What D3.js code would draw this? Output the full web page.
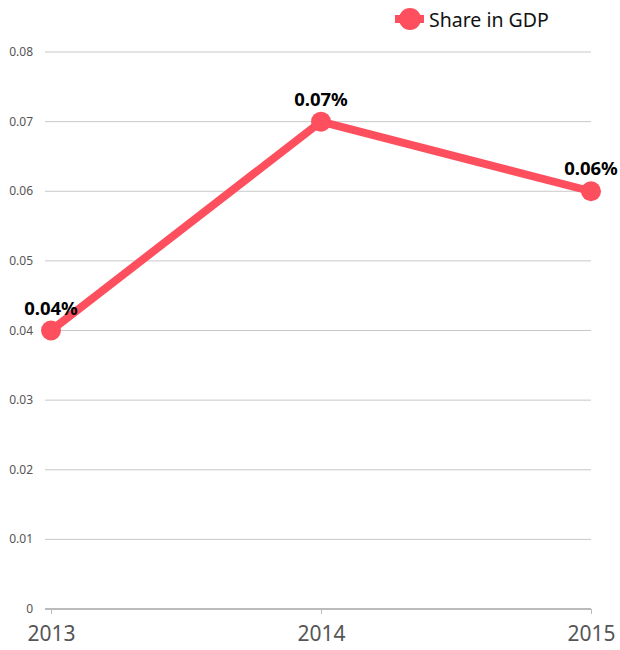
<!DOCTYPE html>
<html>
<head>
<meta charset="utf-8">
<script src="https://cdn.jsdelivr.net/npm/d3@7"></script>
<style>
body{margin:0;background:#fff;}
svg{display:block;font-family:"Noto Sans","Open Sans",sans-serif;}
</style>
</head>
<body>
<svg id="chart" width="620" height="650"></svg>
<script>
const years = ["2013","2014","2015"];
const shareInGDP = [0.04, 0.07, 0.06];
const dataLabels = ["0.04%","0.07%","0.06%"];
const yTicks = [0,0.01,0.02,0.03,0.04,0.05,0.06,0.07,0.08];
const seriesName = "Share in GDP";

const svg = d3.select("#chart");
const color = "#fd4f5e";
const x = d3.scalePoint().domain(years).range([51,591]);
const y = d3.scaleLinear().domain([0,0.08]).range([609,52]);

// gridlines
svg.append("g").selectAll("line").data(yTicks.filter(d=>d>0)).join("line")
  .attr("x1",45).attr("x2",591)
  .attr("y1",d=>y(d)).attr("y2",d=>y(d))
  .attr("stroke","#c8c8c8").attr("stroke-width",1);

// y labels
svg.append("g").selectAll("text").data(yTicks).join("text")
  .attr("x",33).attr("y",d=>y(d)+4)
  .attr("text-anchor","end").attr("font-size",12).attr("fill","#555")
  .text(d=>d===0?"0":d.toFixed(2));

// x axis
const xAxis = svg.append("g").attr("transform","translate(0,609)")
  .call(d3.axisBottom(x).tickSize(5).tickPadding(12).tickSizeOuter(0));
xAxis.select(".domain").attr("stroke","#bbb").attr("stroke-width",2)
  .attr("d","M45,0H591");
xAxis.selectAll(".tick line").attr("stroke","#bbb");
xAxis.selectAll(".tick text").attr("font-size",21).attr("fill","#555")
  .attr("font-family","'Noto Sans','Open Sans',sans-serif");

const pts = years.map((yr,i)=>({yr, v:shareInGDP[i], lab:dataLabels[i]}));

svg.append("path").datum(pts)
  .attr("d", d3.line().x(d=>x(d.yr)).y(d=>y(d.v)))
  .attr("fill","none").attr("stroke",color).attr("stroke-width",8)
  .attr("stroke-linejoin","round");

svg.append("g").selectAll("circle").data(pts).join("circle")
  .attr("cx",d=>x(d.yr)).attr("cy",d=>y(d.v)).attr("r",10).attr("fill",color);

svg.append("g").selectAll("text").data(pts).join("text")
  .attr("x",d=>x(d.yr)).attr("y",d=>y(d.v)-16)
  .attr("text-anchor","middle").attr("font-size",18.5).attr("font-weight","bold")
  .attr("fill","#000").text(d=>d.lab);

// legend
const lg = svg.append("g");
lg.append("line").attr("x1",395).attr("x2",424).attr("y1",19).attr("y2",19)
  .attr("stroke",color).attr("stroke-width",8);
lg.append("circle").attr("cx",410).attr("cy",19).attr("r",11).attr("fill",color);
lg.append("text").attr("x",429).attr("y",27).attr("font-size",19.5).attr("fill","#111").text(seriesName);
</script>
</body>
</html>
